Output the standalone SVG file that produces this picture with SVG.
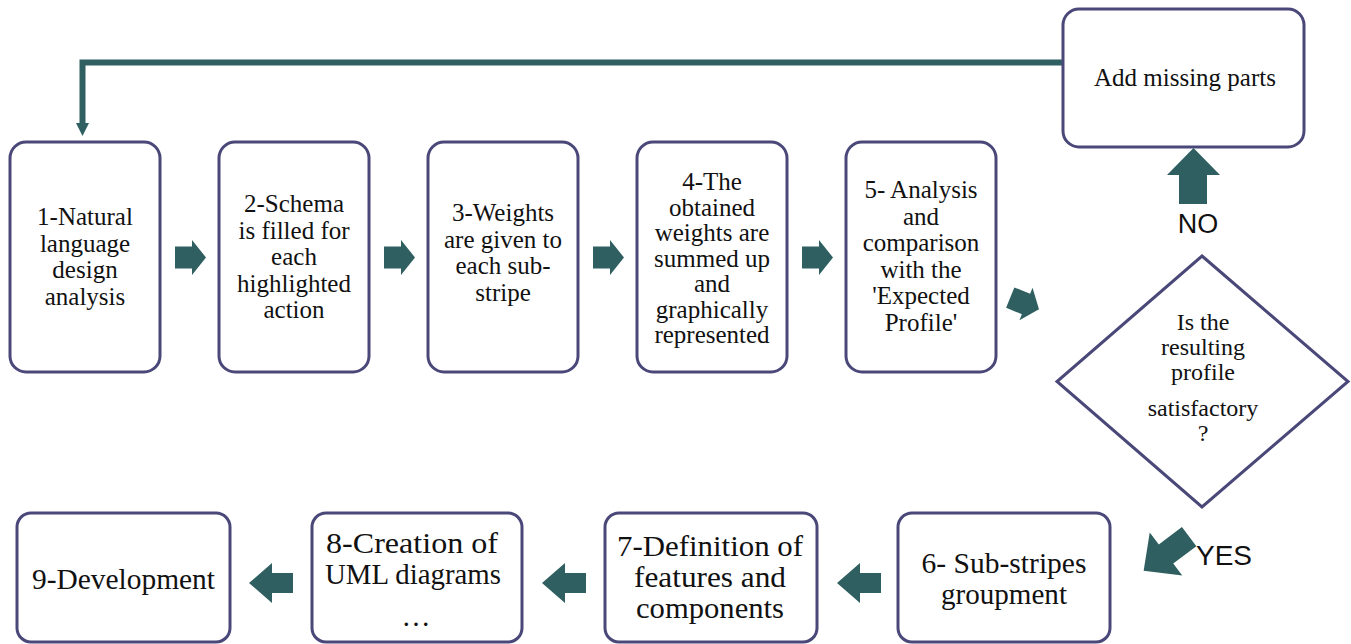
<svg xmlns="http://www.w3.org/2000/svg" xmlns:xlink="http://www.w3.org/1999/xlink" width="1351" height="644" viewBox="0 0 1351 644">
<style>
.box{fill:#ffffff;stroke:#4a4878;stroke-width:3}
.arr{fill:#2f5f60}
.t,.tb,.td{font-family:"Liberation Serif","Times New Roman",Times,serif;text-anchor:middle;fill:#111}
.t{font-size:25px}
.tb{font-size:29px}
.td{font-size:24px}
.ts{font-family:"Liberation Sans",Arial,sans-serif;text-anchor:middle;fill:#111}
.line{fill:none;stroke:#2f5f60;stroke-width:6}
</style>
<defs>
<path id="arrR" d="M-17,-11 H0 V-17.5 L14,0 L0,17.5 V11 H-17 Z"/>
<path id="arrL" d="M21,-10 H0 V-20 L-23,0 L0,20 V10 H21 Z"/>
</defs>
<rect width="1351" height="644" fill="#ffffff"/>

<g id="connectors">
<polyline class="line" points="1063,62.5 82.5,62.5 82.5,125"/>
<polygon class="arr" points="76,123 89,123 82.5,136"/>
<use xlink:href="#arrR" class="arr" transform="translate(192,257.5)"/>
<use xlink:href="#arrR" class="arr" transform="translate(401,257.5)"/>
<use xlink:href="#arrR" class="arr" transform="translate(610,257.5)"/>
<use xlink:href="#arrR" class="arr" transform="translate(819,257.5)"/>
<use xlink:href="#arrR" class="arr" transform="translate(1026,304) rotate(22)"/>
<path class="arr" d="M1179,204 V175 H1167 L1193.5,148 L1220,175 H1207 V204 Z"/>
<path class="arr" d="M-29,-12 H0 V-27 L28,0 L0,27 V12 H-29 Z" transform="translate(1166,554) rotate(143)"/>
<use xlink:href="#arrL" class="arr" transform="translate(272,583)"/>
<use xlink:href="#arrL" class="arr" transform="translate(565,583)"/>
<use xlink:href="#arrL" class="arr" transform="translate(860,583)"/>
<text class="ts" x="1198" y="233" font-size="27">NO</text>
<text class="ts" x="1224" y="565" font-size="28">YES</text>
</g>

<g id="node1">
<rect class="box" x="10" y="142" width="150" height="230" rx="16"/>
<text class="t" x="85"><tspan x="85" y="225">1-Natural</tspan><tspan x="85" y="251.5">language</tspan><tspan x="85" y="278">design</tspan><tspan x="85" y="304.5">analysis</tspan></text>
</g>
<g id="node2">
<rect class="box" x="219" y="142" width="150" height="230" rx="16"/>
<text class="t" x="294"><tspan x="294" y="212">2-Schema</tspan><tspan x="294" y="238.5">is filled for</tspan><tspan x="294" y="265">each</tspan><tspan x="294" y="291.5">highlighted</tspan><tspan x="294" y="318">action</tspan></text>
</g>
<g id="node3">
<rect class="box" x="428" y="142" width="150" height="230" rx="16"/>
<text class="t" x="503"><tspan x="503" y="221">3-Weights</tspan><tspan x="503" y="247.5">are given to</tspan><tspan x="503" y="274">each sub-</tspan><tspan x="503" y="300.5">stripe</tspan></text>
</g>
<g id="node4">
<rect class="box" x="637" y="142" width="150" height="230" rx="16"/>
<text class="t" x="712"><tspan x="712" y="190">4-The</tspan><tspan x="712" y="215.5">obtained</tspan><tspan x="712" y="241">weights are</tspan><tspan x="712" y="266.5">summed up</tspan><tspan x="712" y="292">and</tspan><tspan x="712" y="317.5">graphically</tspan><tspan x="712" y="343">represented</tspan></text>
</g>
<g id="node5">
<rect class="box" x="846" y="142" width="150" height="230" rx="16"/>
<text class="t" x="921"><tspan x="921" y="198">5- Analysis</tspan><tspan x="921" y="224.5">and</tspan><tspan x="921" y="251">comparison</tspan><tspan x="921" y="277.5">with the</tspan><tspan x="921" y="304">'Expected</tspan><tspan x="921" y="330.5">Profile'</tspan></text>
</g>
<g id="node-missing">
<rect class="box" x="1063" y="9" width="241" height="138" rx="16"/>
<text class="t" x="1185" y="86">Add missing parts</text>
</g>
<g id="node-decision">
<polygon class="box" points="1202,256 1348,381.5 1202,507 1057,381.5"/>
<text class="td" x="1203"><tspan x="1203" y="330">Is the</tspan><tspan x="1203" y="355">resulting</tspan><tspan x="1203" y="380">profile</tspan><tspan x="1203" y="416">satisfactory</tspan><tspan x="1203" y="441">?</tspan></text>
</g>
<g id="node6">
<rect class="box" x="898" y="513" width="212" height="129" rx="14"/>
<text class="tb" x="1004"><tspan x="1004" y="573" textLength="165" lengthAdjust="spacingAndGlyphs">6- Sub-stripes</tspan><tspan x="1004" y="604" textLength="126" lengthAdjust="spacingAndGlyphs">groupment</tspan></text>
</g>
<g id="node7">
<rect class="box" x="605" y="513" width="212" height="129" rx="14"/>
<text class="tb" x="710"><tspan x="710" y="556" textLength="186" lengthAdjust="spacingAndGlyphs">7-Definition of</tspan><tspan x="710" y="587" textLength="152" lengthAdjust="spacingAndGlyphs">features and</tspan><tspan x="710" y="618" textLength="148" lengthAdjust="spacingAndGlyphs">components</tspan></text>
</g>
<g id="node8">
<rect class="box" x="312" y="513" width="210" height="129" rx="14"/>
<text class="tb" x="412"><tspan x="412" y="553" textLength="172" lengthAdjust="spacingAndGlyphs">8-Creation of</tspan><tspan x="413" y="584" textLength="176" lengthAdjust="spacingAndGlyphs">UML diagrams</tspan><tspan x="416" y="626">…</tspan></text>
</g>
<g id="node9">
<rect class="box" x="17" y="513" width="213" height="129" rx="14"/>
<text class="tb" x="123.5" y="589" textLength="183" lengthAdjust="spacingAndGlyphs">9-Development</text>
</g>
</svg>
